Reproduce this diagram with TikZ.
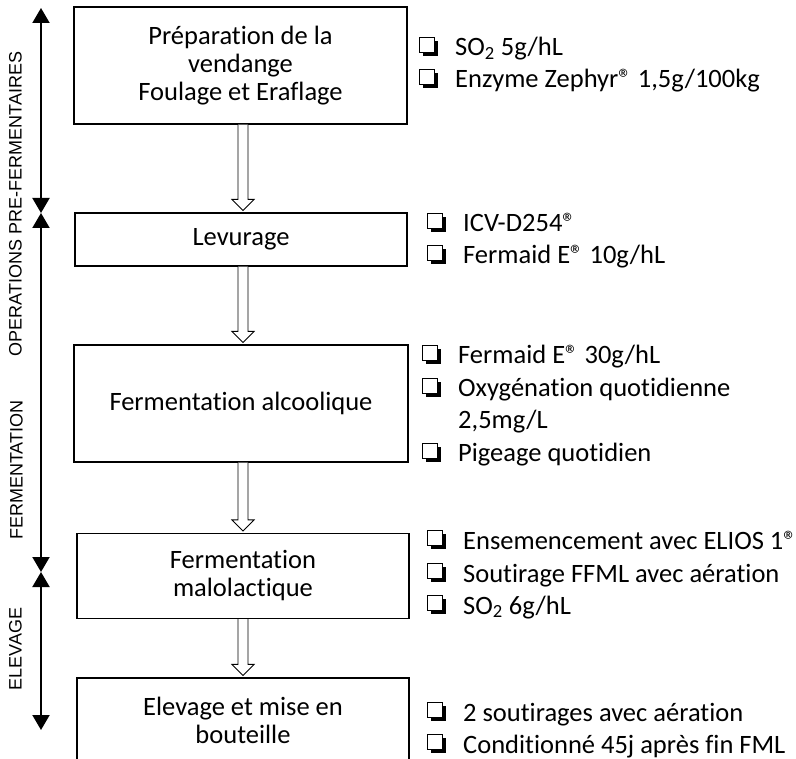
\documentclass[tikz,border=0pt]{standalone}
\usepackage{fontspec}
\setmainfont{Carlito}[Ligatures={NoCommon,NoContextual}]
\newfontfamily\labfont{Liberation Sans}
\usetikzlibrary{arrows.meta,calc}
\tikzset{
  stepbox/.style={draw, line width=1.2pt, inner sep=0pt, align=center,
    font=\fontsize{26.5}{28}\selectfont},
  itm/.style={anchor=base west, inner sep=0pt, font=\fontsize{26.5}{31}\selectfont},
  phase/.style={line width=2pt, {Triangle[length=15pt,width=17pt]}-{Triangle[length=15pt,width=17pt]}},
  phaselab/.style={rotate=90, inner sep=0pt, font=\labfont\fontsize{18}{21}\selectfont},
  hollow/.style={draw, line width=0.9pt, fill=white},
  cbox/.pic={
    \fill[black] (3.5pt,0pt) rectangle (18.5pt,15pt);
    \draw[line width=1.2pt, fill=white] (0.6pt,3.5pt) rectangle (15.5pt,18.4pt);
  }
}
\newcommand\hollowarrow[2]{%
  \draw[hollow] let \p1=(#1.south), \p2=(#2.north), \p3=(col) in
    (\x3-5pt,\y1) -- (\x3-5pt,\y2+13pt) -- (\x3-11pt,\y2+13pt) -- (\x3,\y2+2pt)
    -- (\x3+11pt,\y2+13pt) -- (\x3+5pt,\y2+13pt) -- (\x3+5pt,\y1);
}
\newcommand\itmbox[4]{%
  \node[itm] (#1) at (#2,#3) {#4};
  \pic at ([xshift=-36pt]#1.base west) {cbox};
}
\begin{document}
\begin{tikzpicture}[x=1pt,y=-1pt]
\useasboundingbox (0,0) rectangle (796,759);
\clip (0,0) rectangle (796,759);
\coordinate (col) at (243,0);

% process boxes
\node[stepbox, minimum width=333pt, minimum height=117pt] (b1) at (240.5,65.5)
  {Préparation de la\\vendange\\Foulage et Eraflage};
\node[stepbox, minimum width=332pt, minimum height=53pt] (b2) at (241,239.5) {Levurage};
\node[stepbox, minimum width=334pt, minimum height=117pt] (b3) at (241,403.5) {Fermentation alcoolique};
\node[stepbox, minimum width=332pt, minimum height=85pt] (b4) at (243,576) {Fermentation\\malolactique};
\node[stepbox, minimum width=332pt, minimum height=84pt] (b5) at (243,720) {Elevage et mise en\\bouteille};

% hollow arrows
\hollowarrow{b1}{b2}
\hollowarrow{b2}{b3}
\hollowarrow{b3}{b4}
\hollowarrow{b4}{b5}

% phase arrows
\coordinate (p0) at (41,8);
\coordinate (p1) at (41,213);
\coordinate (p2) at (41,572);
\coordinate (p3) at (41,730);
\draw[phase] (p0) -- (p1);
\draw[phase] (p1) -- (p2);
\draw[phase] (p2) -- (p3);
\node[phaselab] (l1) at (15.5,204) {OPERATIONS PRE-FERMENTAIRES};
\node[phaselab] (l2) at (16.5,470) {FERMENTATION};
\node[phaselab] (l3) at (15.5,649) {ELEVAGE};

% side notes
\itmbox{s1a}{455}{56}{SO\textsubscript{2} 5g/hL}
\itmbox{s1b}{455}{88}{Enzyme Zephyr® 1,5g/100kg}
\itmbox{s2a}{463}{232}{ICV-D254®}
\itmbox{s2b}{463}{264}{Fermaid E® 10g/hL}
\itmbox{s3a}{458}{364}{Fermaid E® 30g/hL}
\itmbox{s3b}{458}{397}{Oxygénation quotidienne}
\node[itm] (s3c) at (458,429) {2,5mg/L};
\itmbox{s3d}{458}{462}{Pigeage quotidien}
\itmbox{s4a}{463}{549}{Ensemencement avec ELIOS 1®}
\itmbox{s4b}{463}{582}{Soutirage FFML avec aération}
\itmbox{s4c}{463}{614}{SO\textsubscript{2} 6g/hL}
\itmbox{s5a}{463}{721}{2 soutirages avec aération}
\itmbox{s5b}{463}{753}{Conditionné 45j après fin FML}
\end{tikzpicture}
\end{document}
